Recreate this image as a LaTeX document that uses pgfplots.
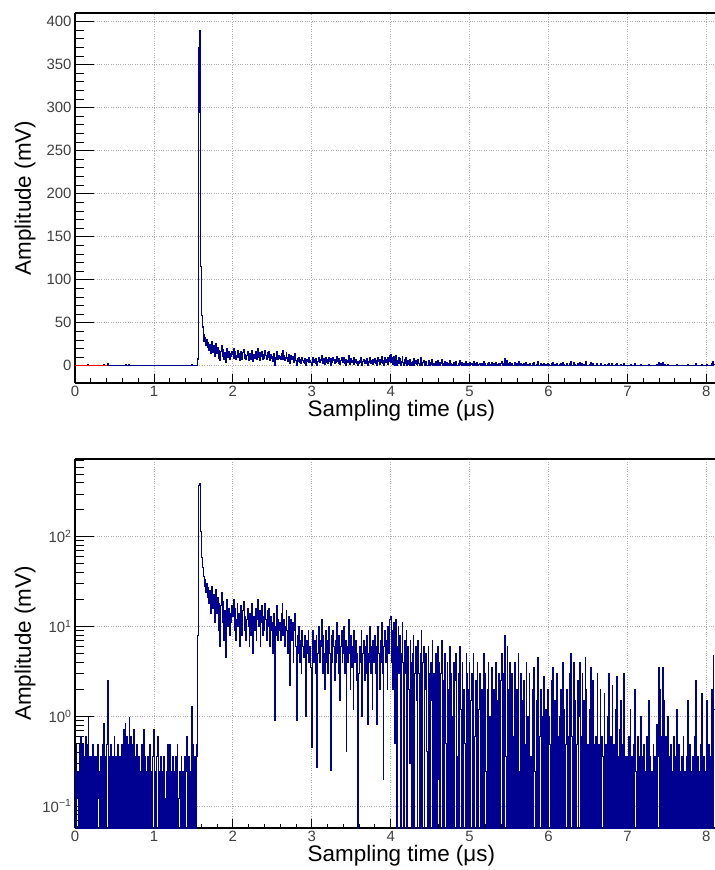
\documentclass[border=0pt]{standalone}
\usepackage{fontspec}
\setmainfont{Liberation Sans}
\usepackage{pgfplots}
\usepackage{pgfplotstable}
\pgfplotsset{compat=1.18}
\definecolor{rootblue}{RGB}{0,0,145}
\definecolor{gridgray}{RGB}{175,175,175}

% amplitude (mV), one sample every 0.01 us starting at 0 (20 samples per line)
\pgfplotstableread[row sep=\\]{
a\\
0.24\\ 0\\ 0.48\\ 0.12\\ 0.24\\ 0\\ 0.48\\ -0.12\\ 0.6\\ 0\\ 0.48\\ -0.12\\ 0.36\\ 0\\ 0.6\\ 0\\ 0.48\\ 0.96\\ 0\\ 0.36\\
0\\ 0.36\\ -0.12\\ 0.48\\ 0\\ 0.36\\ -0.12\\ 0.36\\ 0\\ 0.48\\ 0.12\\ 0.24\\ 0\\ 0.36\\ -0.12\\ 0.48\\ 0\\ 0.84\\ 0\\ 0.36\\
-0.12\\ 0.48\\ 2.5\\ 0\\ 0.36\\ -0.12\\ 0.48\\ 0\\ 0.36\\ -0.12\\ 0.6\\ 0\\ 0.36\\ 0\\ 0.48\\ -0.12\\ 0.36\\ 0\\ 0.36\\ -0.12\\
0.48\\ 0\\ 0.72\\ 0\\ 0.84\\ -0.12\\ 0.6\\ 0\\ 0.48\\ 0.96\\ 0\\ 0.6\\ -0.12\\ 0.48\\ 0\\ 0.72\\ 0\\ 0.36\\ -0.12\\ 0.48\\
0\\ 0.36\\ -0.12\\ 0.24\\ 0\\ 0.48\\ 0\\ 0.72\\ -0.12\\ 0.36\\ 0\\ 0.24\\ -0.12\\ 0.36\\ 0\\ 0.48\\ -0.12\\ 0.24\\ 0\\ 0.36\\
0.72\\ 0\\ 0.24\\ -0.12\\ 0.36\\ 0.6\\ 0\\ 0.24\\ -0.12\\ 0.36\\ 0\\ 0.24\\ 0\\ 0.36\\ -0.12\\ 0.12\\ 0.24\\ 0\\ 0.48\\ -0.12\\
0.48\\ 0\\ 0.24\\ -0.12\\ 0.36\\ 0\\ 0.24\\ 0\\ 0.36\\ -0.12\\ 0.48\\ 0\\ 0.12\\ 0.24\\ -0.12\\ 0.36\\ 0\\ 0.24\\ 0\\ 0.36\\
-0.12\\ 0.24\\ 0.6\\ 0\\ 0.36\\ -0.12\\ 0.24\\ 0\\ 1.3\\ 0\\ 0.48\\ -0.12\\ 0.36\\ 0\\ 0.48\\ 0.36\\ 8\\ 370\\ 390\\ 295\\
115\\ 58\\ 45\\ 36\\ 28\\ 33\\ 24\\ 30\\ 21\\ 27\\ 18\\ 25\\ 14\\ 22\\ 28\\ 16\\ 23\\ 11\\ 20\\ 26\\
14\\ 21\\ 9\\ 18\\ 6\\ 17\\ 24\\ 11\\ 19\\ 7\\ 15\\ 4.5\\ 13\\ 20\\ 10\\ 16\\ 8\\ 14\\ 11\\ 17\\
13\\ 20\\ 9\\ 16\\ 7\\ 12\\ 18\\ 10\\ 14\\ 6\\ 17\\ 11\\ 8\\ 15\\ 19\\ 9\\ 13\\ 7\\ 12\\ 16\\
10\\ 6\\ 14\\ 8\\ 18\\ 11\\ 5\\ 13\\ 9\\ 16\\ 7\\ 12\\ 20\\ 10\\ 15\\ 6\\ 11\\ 17\\ 8\\ 13\\
9\\ 18\\ 12\\ 7\\ 15\\ 10\\ 16\\ 6\\ 13\\ 9\\ 11\\ 5\\ 14\\ 0.9\\ 10\\ 8\\ 17\\ 7\\ 12\\ 9\\
11\\ 7\\ 14\\ 18\\ 8\\ 12\\ 6\\ 10\\ 15\\ 9\\ 5\\ 13\\ 2.2\\ 9\\ 12\\ 7\\ 11\\ 4\\ 9\\ 14\\
6\\ 0.9\\ 8\\ 5\\ 10\\ 4\\ 7\\ 3\\ 9\\ 6\\ 4.5\\ 8\\ 3\\ 1.0\\ 7\\ 5\\ 9\\ 4\\ 6\\ 3.5\\
0.45\\ 6\\ 9\\ 4\\ 7\\ 3\\ 8\\ 0.27\\ 5\\ 10\\ 4\\ 7\\ 6\\ 12\\ 3\\ 8\\ 5\\ 2\\ 9\\ 4\\
7\\ 3\\ 10\\ 5\\ 0.25\\ 8\\ 4\\ 9\\ 6\\ 2.5\\ 7\\ 4\\ 11\\ 5\\ 3\\ 8\\ 1.5\\ 6\\ 9\\ 4\\
5\\ 10\\ 3\\ 7\\ 0.4\\ 6\\ 4\\ 12\\ 5\\ 2\\ 8\\ 3.5\\ 6\\ 1.2\\ 9\\ 4\\ 7\\ 2.5\\ 5\\ 0\\
3\\ 6\\ 4\\ 9\\ 1\\ 5\\ 7\\ 2.5\\ 6\\ 3\\ 8\\ 0.8\\ 5\\ 4\\ 10\\ 3\\ 6\\ 1.2\\ 7\\ 4\\
8\\ 3\\ 6\\ 0.8\\ 10\\ 5\\ 2\\ 7\\ 4\\ 11\\ 3\\ 0.2\\ 6\\ 9\\ 4\\ 7\\ 2\\ 10\\ 5\\ 12\\
13\\ 4\\ 9\\ 2\\ 11\\ 0.5\\ 7\\ 12\\ 0\\ 6\\ 10\\ 3\\ 8\\ 0\\ 5\\ 11\\ 4\\ 0\\ 7\\ 3\\
9\\ 0\\ 6\\ 2\\ 0.3\\ 7\\ 4\\ 0\\ 5\\ 8\\ 0\\ 3\\ 6\\ 1.5\\ 0\\ 7\\ 3\\ 0\\ 5\\ 9\\
0\\ 4\\ 6\\ 0\\ 2\\ 5\\ 0.4\\ 0\\ 6\\ 3\\ 0\\ 4\\ 1.5\\ 7\\ 0\\ 3\\ 0\\ 5\\ 2\\ 0\\
6\\ 0.2\\ 4\\ 0\\ 3\\ 7\\ 0\\ 2.5\\ 0\\ 5\\ 0.5\\ 0\\ 4\\ 2\\ 0\\ 6\\ 0\\ 3\\ 1\\ 0\\
4\\ 0\\ 2.5\\ 5\\ 0\\ 0.36\\ 3\\ 0\\ 6\\ 1.2\\ 0\\ 4\\ 0\\ 2\\ 0.5\\ 0\\ 5\\ 3\\ 0\\ 2\\
4\\ 0\\ 1.5\\ 3\\ 0\\ 5\\ 0\\ 0.6\\ 2.5\\ 0\\ 4\\ 0\\ 1.2\\ 3\\ 0\\ 0.36\\ 2\\ 0\\ 5\\ 0\\
3\\ 0.24\\ 0\\ 2\\ 4\\ 0\\ 1\\ 0\\ 3.5\\ 0.48\\ 0\\ 2\\ 0\\ 4\\ 0\\ 1.5\\ 0\\ 3\\ 0.6\\ 0\\
2.5\\ 5\\ 0\\ 3\\ 0\\ 8\\ 0.36\\ 0\\ 6\\ 2\\ 0\\ 4\\ 0\\ 1\\ 3\\ 0\\ 0.6\\ 0\\ 4\\ 0\\
2\\ 0\\ 5\\ 0.24\\ 0\\ 3\\ 0\\ 1.5\\ 0\\ 2.5\\ 0\\ 0.48\\ 4\\ 0\\ 1\\ 0\\ 3\\ 0\\ 0.36\\ 0\\
2\\ 0\\ 3.5\\ 0.24\\ 0\\ 1.5\\ 0\\ 4.5\\ 0\\ 0.6\\ 2\\ 0\\ 1\\ 0\\ 2.8\\ 0.36\\ 0\\ 1.2\\ 0\\ 2\\
0\\ 1\\ 0.48\\ 0\\ 2.5\\ 0\\ 3.5\\ 0\\ 1.5\\ 0.36\\ 0\\ 3\\ 0\\ 0.6\\ 1\\ 0\\ 2\\ 0\\ 4\\ 0\\
1.2\\ 0\\ 0.48\\ 2\\ 0\\ 0.6\\ 0\\ 3\\ 0\\ 5\\ 0.6\\ 0\\ 4\\ 0\\ 1.5\\ 0\\ 0.48\\ 2.5\\ 0\\ 1\\
4\\ 0\\ 0.6\\ 3\\ 0\\ 1.5\\ 0\\ 4.5\\ 2\\ 0\\ 0.48\\ 0\\ 1.2\\ 0\\ 3.5\\ 0\\ 2.5\\ 0\\ 0.48\\ 0\\
0.6\\ 0\\ 3\\ 0\\ 0.48\\ 0\\ 2\\ 0\\ 0.6\\ 0.36\\ 0\\ 1.8\\ 0\\ 0.48\\ 0\\ 1\\ 0\\ 3\\ 0\\ 0.6\\
0\\ 2.2\\ 0\\ 0.48\\ 0\\ 1.2\\ 0\\ 2.8\\ 0\\ 0.36\\ 0.72\\ 0\\ 1.5\\ 0\\ 0.48\\ 0\\ 3\\ 0\\ 0.36\\ 0\\
0.36\\ 0\\ 0.6\\ 0\\ 1.2\\ 0\\ 0.36\\ 0\\ 0.48\\ 0\\ 2\\ 0.24\\ 0\\ 0.6\\ 0\\ 0.36\\ 0\\ 1\\ 0\\ 0.36\\
0\\ 0.48\\ 0\\ 0.24\\ 0\\ 0.6\\ 0\\ 1.5\\ 0\\ 0.36\\ 0\\ 0.24\\ 0\\ 0.48\\ 0\\ 0.36\\ 0\\ 0.8\\ 0\\ 0.36\\
3.5\\ 0\\ 2\\ 0.6\\ 0\\ 3.5\\ 0\\ 1.5\\ 0\\ 0.6\\ 0\\ 1\\ 0\\ 0.36\\ 0\\ 0.48\\ 0\\ 0.24\\ 0\\ 0.6\\
0\\ 0.36\\ 0\\ 1.2\\ 0\\ 0.48\\ 0\\ 0.24\\ 0\\ 0.36\\ 0\\ 0.6\\ 0\\ 0.24\\ 0\\ 0.36\\ 0\\ 1.5\\ 0\\ 0.48\\
0\\ 0.24\\ 0\\ 0.36\\ 0\\ 0.6\\ 0\\ 2.5\\ 0\\ 0.36\\ 0\\ 0.24\\ 0\\ 0.48\\ 0\\ 1.8\\ 0\\ 0.36\\ 0\\ 0.24\\
0\\ 1.5\\ 0\\ 0.48\\ 0\\ 0.36\\ 0\\ 2\\ 0\\ 4.7\\ 1.2\\
}\wave
% time axis (us) and a copy of the amplitude floored for the log panel
\pgfplotstablecreatecol[create col/expr={\pgfplotstablerow*0.01}]{t}\wave
\pgfplotstablecreatecol[create col/expr={max(\thisrow{a},0.001)}]{b}\wave

\pgfplotsset{rootax/.style={
  scale only axis, width=640bp, xmin=0, xmax=8.11,
  axis x line*=box, axis y line*=left,
  xtick={0,...,8}, minor x tick num=4,
  xtick pos=bottom, ytick pos=left,
  tick align=inside, major tick length=12bp, minor tick length=6bp,
  xtick style={/pgfplots/major tick length=9bp, /pgfplots/minor tick length=4.5bp},
  ytick style={/pgfplots/major tick length=19bp, /pgfplots/minor tick length=9bp},
  axis line style={line width=2.4bp, black},
  tick style={line width=0.8bp, black},
  grid=major, major grid style={dotted, line width=0.7bp, gridgray},
  tick label style={font=\fontsize{15}{18}\selectfont, text=black!75},
  /pgf/number format/assume math mode=true,
  label style={font=\fontsize{22.5}{27}\selectfont},
  xlabel={Sampling time (μs)}, ylabel={Amplitude (mV)},
  xlabel style={at={(axis description cs:0.51,-0.076)}, anchor=center},
  ylabel style={at={(axis description cs:-0.078,0.5)}, anchor=center},
}}

\begin{document}
\begin{tikzpicture}
\path[use as bounding box] (0,0) rectangle (715bp,870bp);

\begin{axis}[rootax, at={(75bp,487bp)}, anchor=south west, height=370bp,
  ymin=-20, ymax=410, ytick={0,50,...,400}, minor y tick num=4]
\addplot[rootblue, line width=1.2bp, const plot mark mid]
  table[x=t, y=a]{\wave};
\addplot[red, line width=1bp] coordinates {(0,0) (0.4,0)};
\end{axis}

\begin{axis}[rootax, at={(75bp,42bp)}, anchor=south west, height=369bp,
  ymode=log, ymin=0.0569, ymax=735,
  ytick={0.1,1,10,100},
  yticklabels={10\textsuperscript{−1},10\textsuperscript{0},10\textsuperscript{1},10\textsuperscript{2}},
  minor ytick={0.06,0.07,0.08,0.09,0.2,0.3,0.4,0.5,0.6,0.7,0.8,0.9,2,3,4,5,6,7,8,9,20,30,40,50,60,70,80,90,200,300,400,500,600,700}]
\addplot[rootblue, line width=1bp, const plot mark mid]
  table[x=t, y=b]{\wave};
\end{axis}
\end{tikzpicture}
\end{document}
